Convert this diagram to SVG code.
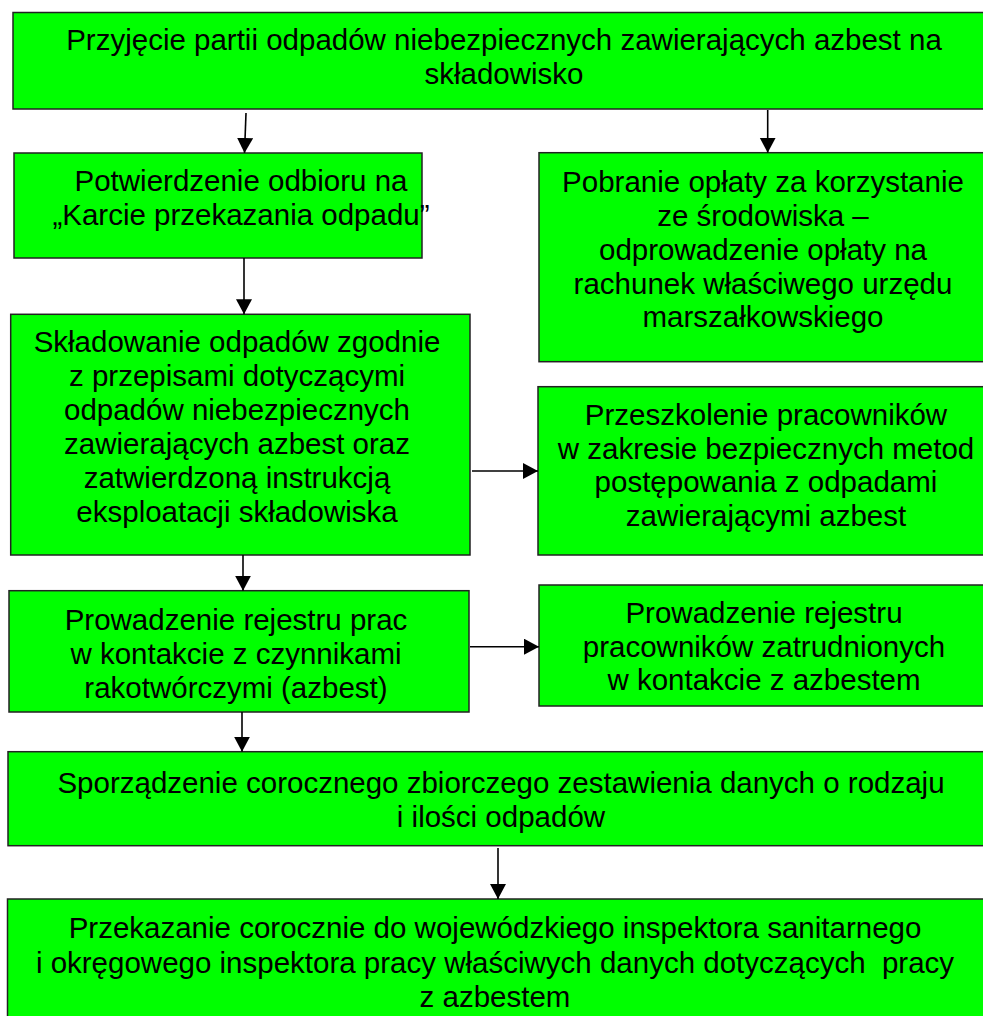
<svg xmlns="http://www.w3.org/2000/svg" width="983" height="1016" viewBox="0 0 983 1016">
<style>
.box{fill:#00FF00;stroke:#222;stroke-width:1.5}
.t{font-family:"Liberation Sans",Arial,sans-serif;font-size:29.5px;fill:#000;text-anchor:middle}
.c{stroke:#000;stroke-width:1.6;fill:none;marker-end:url(#ah)}
</style>
<defs>
<marker id="ah" markerUnits="userSpaceOnUse" markerWidth="17" markerHeight="17" refX="15" refY="8" orient="auto">
<path d="M0,0 L15,8 L0,16 z" fill="#000"/>
</marker>
</defs>
<rect width="983" height="1016" fill="#fff"/>
<g id="n1"><rect class="box" x="13" y="12.5" width="980" height="96.5"/>
<text class="t"><tspan x="504" y="50">Przyjęcie partii odpadów niebezpiecznych zawierających azbest na</tspan><tspan x="504" y="84">składowisko</tspan></text></g>
<g id="n2"><rect class="box" x="14" y="153" width="408" height="105"/>
<text class="t"><tspan x="241" y="191">Potwierdzenie odbioru na</tspan><tspan x="241" y="225">„Karcie przekazania odpadu”</tspan></text></g>
<g id="n3"><rect class="box" x="539" y="152.7" width="450" height="209"/>
<text class="t"><tspan x="763" y="192">Pobranie opłaty za korzystanie</tspan><tspan x="763" y="226">ze środowiska –</tspan><tspan x="763" y="260">odprowadzenie opłaty na</tspan><tspan x="763" y="294">rachunek właściwego urzędu</tspan><tspan x="763" y="327">marszałkowskiego</tspan></text></g>
<g id="n4"><rect class="box" x="10.7" y="314.3" width="459.3" height="240.7"/>
<text class="t"><tspan x="237" y="352">Składowanie odpadów zgodnie</tspan><tspan x="237" y="386">z przepisami dotyczącymi</tspan><tspan x="237" y="420">odpadów niebezpiecznych</tspan><tspan x="237" y="454">zawierających azbest oraz</tspan><tspan x="237" y="488">zatwierdzoną instrukcją</tspan><tspan x="237" y="522">eksploatacji składowiska</tspan></text></g>
<g id="n5"><rect class="box" x="538" y="386.7" width="451" height="168.3"/>
<text class="t"><tspan x="766" y="425">Przeszkolenie pracowników</tspan><tspan x="766" y="459">w zakresie bezpiecznych metod</tspan><tspan x="766" y="492">postępowania z odpadami</tspan><tspan x="766" y="526">zawierającymi azbest</tspan></text></g>
<g id="n6"><rect class="box" x="9" y="590.7" width="460" height="121.3"/>
<text class="t"><tspan x="236" y="630">Prowadzenie rejestru prac</tspan><tspan x="236" y="664">w kontakcie z czynnikami</tspan><tspan x="236" y="698">rakotwórczymi (azbest)</tspan></text></g>
<g id="n7"><rect class="box" x="539" y="585" width="450" height="121"/>
<text class="t"><tspan x="764" y="623">Prowadzenie rejestru</tspan><tspan x="764" y="657">pracowników zatrudnionych</tspan><tspan x="764" y="690">w kontakcie z azbestem</tspan></text></g>
<g id="n8"><rect class="box" x="8" y="751.7" width="985" height="94"/>
<text class="t"><tspan x="501" y="793">Sporządzenie corocznego zbiorczego zestawienia danych o rodzaju</tspan><tspan x="501" y="827">i ilości odpadów</tspan></text></g>
<g id="n9"><rect class="box" x="7.5" y="899" width="985" height="130"/>
<text class="t" xml:space="preserve"><tspan x="495" y="938">Przekazanie corocznie do wojewódzkiego inspektora sanitarnego</tspan><tspan x="495" y="973">i okręgowego inspektora pracy właściwych danych dotyczących  pracy</tspan><tspan x="495" y="1007">z azbestem</tspan></text></g>
<g id="connectors">
<line class="c" x1="246" y1="113" x2="244.5" y2="153"/>
<line class="c" x1="767.7" y1="110" x2="767.7" y2="152.7"/>
<line class="c" x1="244" y1="258" x2="244" y2="314.3"/>
<line class="c" x1="472" y1="471" x2="538" y2="471"/>
<line class="c" x1="243" y1="555" x2="243" y2="590.7"/>
<line class="c" x1="470" y1="646.7" x2="539" y2="646.7"/>
<line class="c" x1="242" y1="712" x2="242" y2="751.7"/>
<line class="c" x1="498" y1="848" x2="498" y2="899"/>
</g>
</svg>
